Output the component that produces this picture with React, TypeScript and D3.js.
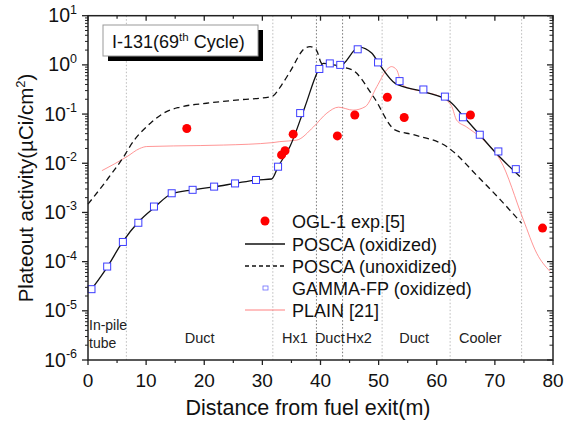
import React from "react";
import * as d3 from "d3";

// ---- data ----
const xTicks = [0, 10, 20, 30, 40, 50, 60, 70, 80];
const yExponents = [1, 0, -1, -2, -3, -4, -5, -6];

// OGL-1 experiment [distance m, activity]
const oglX = [17.0, 33.3, 33.9, 35.3, 42.9, 45.9, 51.5, 54.4, 65.8, 78.2];
const oglY = [0.051, 0.0148, 0.018, 0.039, 0.036, 0.096, 0.22, 0.085, 0.096, 0.00048];

// POSCA oxidized (log10 values)
const poscaOxX = [1.0, 3.2, 5.9, 8.7, 11.5, 14.4, 18.1, 21.7, 25.3, 29.0, 31.6, 32.7, 34.75, 37.3, 39.8, 40.5, 43.4, 46.6, 48.8, 50.2, 52.8, 57.7, 62.3, 64.6, 67.4, 69.7, 74.3];
const poscaOxLog = [-4.5, -4.13, -3.61, -3.19, -2.89, -2.62, -2.54, -2.48, -2.41, -2.34, -2.32, -2.07, -1.66, -0.86, -0.07, 0.03, -0.016, 0.36, 0.24, 0.0, -0.37, -0.545, -0.75, -1.05, -1.42, -1.73, -2.27];

// POSCA unoxidized (log10 values)
const poscaUnX = [0.0, 3.5, 6.5, 7.2, 10.7, 13.5, 15.8, 20.4, 26.1, 31.6, 33.3, 34.75, 37.3, 38.2, 39.3, 40.2, 45.4, 49.1, 52.8, 56.0, 61.7, 67.4, 71.0, 74.6];
const poscaUnLog = [-2.83, -2.3, -1.8, -1.66, -1.19, -0.95, -0.86, -0.78, -0.71, -0.645, -0.41, -0.14, 0.337, 0.37, 0.3, 0.03, -0.1, -0.645, -1.32, -1.42, -1.66, -2.31, -2.75, -3.22];

// GAMMA-FP oxidized (log10 values)
const gammaX = [0.6, 3.3, 6.0, 8.66, 11.35, 14.4, 18.0, 21.7, 25.3, 28.9, 32.7, 36.5, 39.8, 41.6, 43.4, 46.4, 49.9, 53.6, 57.7, 61.4, 64.5, 67.4, 70.6, 73.6];
const gammaLog = [-4.56, -4.1, -3.6, -3.21, -2.88, -2.61, -2.54, -2.475, -2.41, -2.34, -2.07, -0.98, -0.083, 0.03, 0.0, 0.317, 0.05, -0.33, -0.5, -0.645, -1.065, -1.42, -1.76, -2.12];

// PLAIN [21] (log10 values)
const plainX = [2.4, 6.65, 8.9, 10.1, 19.3, 23.3, 31.8, 33.0, 35.9, 38.8, 41.1, 43.1, 45.6, 47.7, 49.7, 51.4, 52.2, 53.1, 53.9, 54.8, 57.7, 61.1, 62.6, 63.4, 65.1, 67.4, 69.7, 70.9, 74.9, 77.2, 79.5];
const plainLog = [-2.15, -1.87, -1.7, -1.66, -1.64, -1.63, -1.58, -1.56, -1.53, -1.26, -0.98, -0.86, -0.92, -0.85, -0.44, -0.1, -0.035, -0.1, -0.37, -0.455, -0.545, -0.68, -0.85, -1.12, -1.26, -1.46, -1.73, -1.93, -3.15, -3.83, -4.2];

// region dividers and labels
const dividerX = [6.6, 31.8, 39.3, 43.8, 50.6, 62.3, 74.6];
const dividerDark = [false, false, true, true, false, false, false];
const regionNames = ["Duct", "Hx1", "Duct", "Hx2", "Duct", "Cooler"];
const regionCenters = [19.2, 35.6, 41.6, 46.6, 56.1, 67.5];

const legendLabels = ["OGL-1 exp.[5]", "POSCA (oxidized)", "POSCA (unoxidized)", "GAMMA-FP (oxidized)", "PLAIN [21]"];

const FONT = "'Liberation Sans', Arial, sans-serif";

export default function App() {
  const left = 88, right = 553, top = 15.7, bottom = 360;
  const x = d3.scaleLinear().domain([0, 80]).range([left, right]);
  const y = d3.scaleLog().domain([1e-6, 10]).range([bottom, top]);
  const yl = (v: number) => y(Math.pow(10, v));

  const lineGen = (xs: number[], ls: number[]) =>
    d3.line<number>().x((_, i) => x(xs[i])).y((_, i) => yl(ls[i])).curve(d3.curveMonotoneX)(xs.map((_, i) => i)) || "";

  const minorX = d3.range(5, 80, 10);
  const minorY: number[] = [];
  for (let e = -6; e < 1; e++) for (let m = 2; m <= 9; m++) minorY.push(m * Math.pow(10, e));

  const legendY = [221, 244, 266, 288, 310];
  const axisColor = "#222";

  return (
    <svg width={575} height={424} style={{ position: "absolute", left: 0, top: 0, background: "#fff" }} fontFamily={FONT}>
      {/* dividers */}
      {dividerX.map((d, i) => (
        <line key={"dv" + i} x1={x(d)} x2={x(d)} y1={top} y2={bottom}
          stroke={dividerDark[i] ? "#777" : "#bbb"} strokeWidth={1} strokeDasharray="1.5,2" />
      ))}

      {/* region labels */}
      {regionNames.map((n, i) => (
        <text key={"rn" + i} x={x(regionCenters[i])} y={343} fontSize={14.5} textAnchor="middle" fill="#222">{n}</text>
      ))}
      <text x={89} y={330} fontSize={14} fill="#222">In-pile</text>
      <text x={89} y={348} fontSize={14} fill="#222">tube</text>

      {/* curves */}
      <path d={lineGen(plainX, plainLog)} fill="none" stroke="#ff7c7c" strokeWidth={1} opacity={0.8} />
      <path d={lineGen(poscaUnX, poscaUnLog)} fill="none" stroke="#111" strokeWidth={1.3} strokeDasharray="6,4" />
      <path d={lineGen(poscaOxX, poscaOxLog)} fill="none" stroke="#111" strokeWidth={1.3} />

      {/* GAMMA-FP squares */}
      {gammaX.map((gx, i) => (
        <rect key={"g" + i} x={x(gx) - 3.5} y={yl(gammaLog[i]) - 3.5} width={7} height={7}
          fill="#fff" stroke="#3d3dff" strokeWidth={1} />
      ))}

      {/* OGL points */}
      {oglX.map((ox, i) => (
        <circle key={"o" + i} cx={x(ox)} cy={y(oglY[i])} r={4.5} fill="#ff0000" />
      ))}

      {/* title box */}
      <rect x={108} y={30} width={155} height={31} fill="#000" />
      <rect x={103} y={25} width={155} height={31} fill="#fff" stroke="#999" strokeWidth={1} />
      <text x={112} y={47.5} fontSize={18} fill="#111">
        I-131(69<tspan fontSize={11.5} dy={-7}>th</tspan><tspan dy={7}> Cycle)</tspan>
      </text>

      {/* legend */}
      <circle cx={265} cy={legendY[0]} r={4.5} fill="#ff0000" />
      <line x1={245} x2={285} y1={legendY[1]} y2={legendY[1]} stroke="#111" strokeWidth={1.3} />
      <line x1={245} x2={285} y1={legendY[2]} y2={legendY[2]} stroke="#111" strokeWidth={1.3} strokeDasharray="4,3" />
      <rect x={263} y={legendY[3] - 2} width={5} height={4} fill="#fff" stroke="#6b6bff" strokeWidth={0.8} />
      <line x1={245} x2={285} y1={legendY[4]} y2={legendY[4]} stroke="#ff8080" strokeWidth={1} />
      {legendLabels.map((l, i) => (
        <text key={"l" + i} x={292} y={legendY[i] + 6.5} fontSize={18} fill="#111">{l}</text>
      ))}

      {/* frame */}
      <rect x={left} y={top} width={right - left} height={bottom - top} fill="none" stroke={axisColor} strokeWidth={1.5} />

      {/* x ticks */}
      {xTicks.map((t) => (
        <g key={"xt" + t}>
          <line x1={x(t)} x2={x(t)} y1={bottom} y2={bottom + 5} stroke={axisColor} strokeWidth={1.3} />
          <line x1={x(t)} x2={x(t)} y1={top} y2={top + 5} stroke={axisColor} strokeWidth={1.3} />
          <text x={x(t)} y={387} fontSize={19} textAnchor="middle" fill="#111">{t}</text>
        </g>
      ))}
      {minorX.map((t) => (
        <g key={"xm" + t}>
          <line x1={x(t)} x2={x(t)} y1={bottom} y2={bottom + 3} stroke={axisColor} strokeWidth={1.2} />
          <line x1={x(t)} x2={x(t)} y1={top} y2={top + 3} stroke={axisColor} strokeWidth={1.2} />
        </g>
      ))}

      {/* y ticks */}
      {yExponents.map((e) => (
        <g key={"yt" + e}>
          <line x1={left - 6} x2={left} y1={yl(e)} y2={yl(e)} stroke={axisColor} strokeWidth={1.3} />
          <line x1={right - 6} x2={right} y1={yl(e)} y2={yl(e)} stroke={axisColor} strokeWidth={1.3} />
          <text x={77} y={yl(e) + 6.5} fontSize={19.5} textAnchor="end" fill="#111">
            10<tspan fontSize={12.5} dy={-8.5}>{e < 0 ? "-" + Math.abs(e) : String(e)}</tspan>
          </text>
        </g>
      ))}
      {minorY.map((v, i) => (
        <g key={"ym" + i}>
          <line x1={left - 3} x2={left} y1={y(v)} y2={y(v)} stroke={axisColor} strokeWidth={1} />
          <line x1={right - 3.5} x2={right} y1={y(v)} y2={y(v)} stroke={axisColor} strokeWidth={1} />
        </g>
      ))}

      {/* axis titles */}
      <text x={308} y={415} fontSize={21.5} textAnchor="middle" fill="#111">Distance from fuel exit(m)</text>
      <text transform={`translate(33, 188) rotate(-90)`} fontSize={20.5} textAnchor="middle" fill="#111">
        Plateout activity(µCi/cm<tspan fontSize={13} dy={-8}>2</tspan><tspan dy={8}>)</tspan>
      </text>
    </svg>
  );
}
